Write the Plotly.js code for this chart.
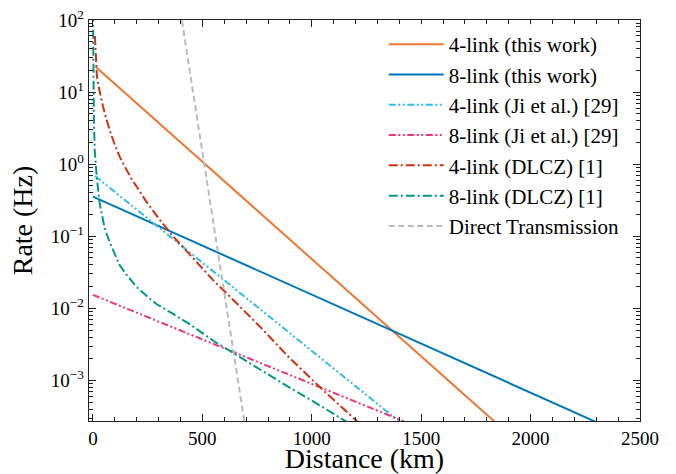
<!DOCTYPE html>
<html>
<head>
<meta charset="utf-8">
<script src="https://cdn.plot.ly/plotly-3.0.1.min.js"></script>
<style>html,body{margin:0;padding:0;background:#fff;}#chart{width:676px;height:474px;}</style>
</head>
<body>
<div id="chart"></div>
<script>
// Distances (km) and rates (Hz)
const thisWork4X = [12, 500, 1000, 1500, 1850];
const thisWork4Y = [22.5, 1.08, 0.0484, 0.00216, 0.000245];

const thisWork8X = [0, 500, 1000, 1400, 2300];
const thisWork8Y = [0.355, 0.0741, 0.0155, 0.00443, 0.000264];

const ji4X = [10, 400, 800, 1200, 1400];
const ji4Y = [0.685, 0.0759, 0.00794, 0.000832, 0.000269];

const ji8X = [0, 400, 800, 1200, 1420];
const ji8Y = [0.01538, 0.00493, 0.00158, 0.000507, 0.000271];

const dlcz4X = [9, 11, 14, 18, 25, 35, 46, 60, 76, 100, 122, 150, 175, 244, 313, 366, 419, 548, 660, 770, 899, 1050, 1210];
const dlcz4Y = [60.0, 39.8, 24.0, 16.6, 12.3, 8.71, 6.31, 4.37, 2.99, 1.86, 1.27, 0.871, 0.638, 0.302, 0.158, 0.1, 0.0661, 0.0248, 0.01148, 0.00531, 0.00204, 0.000741, 0.000266];

const dlcz8X = [0.5, 2, 4, 8, 12, 18, 31, 53, 76, 100, 122, 150, 198, 250, 290, 351, 389, 442, 550, 640, 750, 899, 1000, 1160];
const dlcz8Y = [125.9, 19.95, 5.01, 1.585, 0.955, 0.631, 0.282, 0.132, 0.0832, 0.0562, 0.0398, 0.0302, 0.01995, 0.01445, 0.01148, 0.00891, 0.00759, 0.00603, 0.00355, 0.0024, 0.00148, 0.000794, 0.000525, 0.000266];

const directX = [400, 500, 600, 700];
const directY = [132, 1.48, 0.0166, 0.000186];

const seriesNames = ['4-link (this work)', '8-link (this work)', '4-link (Ji et al.) [29]', '8-link (Ji et al.) [29]', '4-link (DLCZ) [1]', '8-link (DLCZ) [1]', 'Direct Transmission'];
const xTickVals = [0, 500, 1000, 1500, 2000, 2500];
const xTickText = ['0', '500', '1000', '1500', '2000', '2500'];
const yTickVals = [0.001, 0.01, 0.1, 1, 10, 100];
const yTickText = ['10<sup>\u22123</sup>', '10<sup>\u22122</sup>', '10<sup>\u22121</sup>', '10<sup>0</sup>', '10<sup>1</sup>', '10<sup>2</sup>'];

const FONT = 'Liberation Serif';
const dashDotDot = '7px,2.5px,2px,2.5px,2px,2.5px';
const dashDot = '9px,3px,2px,3px';

function tr(x, y, name, color, dash) {
  return {x: x, y: y, name: name, type: 'scatter', mode: 'lines',
          line: {color: color, width: 2, dash: dash}};
}

const data = [
  tr(thisWork4X, thisWork4Y, seriesNames[0], '#EE7733', 'solid'),
  tr(thisWork8X, thisWork8Y, seriesNames[1], '#0077BB', 'solid'),
  tr(ji4X, ji4Y, seriesNames[2], '#33BBEE', dashDotDot),
  tr(ji8X, ji8Y, seriesNames[3], '#EE3377', dashDotDot),
  tr(dlcz4X, dlcz4Y, seriesNames[4], '#CC3311', dashDot),
  tr(dlcz8X, dlcz8Y, seriesNames[5], '#009988', dashDot),
  tr(directX, directY, seriesNames[6], '#BBBBBB', '6px,3.5px')
];

function axisBase() {
  return {
    showline: true, linecolor: '#222', linewidth: 1.2, mirror: 'allticks',
    ticks: 'inside', ticklen: 7, tickwidth: 1, tickcolor: '#222',
    showgrid: false, zeroline: false,
    tickfont: {family: FONT, size: 19, color: '#000'}
  };
}

const xaxis = axisBase();
xaxis.range = [-18, 2500];
xaxis.tickmode = 'array';
xaxis.tickvals = xTickVals;
xaxis.ticktext = xTickText;
xaxis.minor = {dtick: 100, tick0: 0, ticks: 'inside', ticklen: 4, tickcolor: '#222', tickwidth: 1};
xaxis.title = {text: 'Distance (km)', font: {family: FONT, size: 28, color: '#000'}, standoff: 9};

const yaxis = axisBase();
yaxis.type = 'log';
yaxis.range = [-3.563, 2];
yaxis.tickmode = 'array';
yaxis.tickvals = yTickVals;
yaxis.ticktext = yTickText;
yaxis.minor = {dtick: 'D1', ticks: 'inside', ticklen: 4, tickcolor: '#222', tickwidth: 1};
yaxis.title = {text: 'Rate (Hz)', font: {family: FONT, size: 28, color: '#000'}, standoff: 10};

const layout = {
  width: 676, height: 474,
  margin: {l: 89, r: 36, t: 20, b: 53},
  paper_bgcolor: '#fff', plot_bgcolor: '#fff',
  font: {family: FONT, size: 19, color: '#000'},
  showlegend: true,
  legend: {x: 0.535, xanchor: 'left', y: 0.99, yanchor: 'top',
           bgcolor: 'rgba(255,255,255,0.9)', borderwidth: 0,
           font: {family: FONT, size: 21, color: '#000'}, itemwidth: 55},
  xaxis: xaxis,
  yaxis: yaxis
};

Plotly.newPlot('chart', data, layout, {displayModeBar: false, staticPlot: true});
</script>
</body>
</html>
